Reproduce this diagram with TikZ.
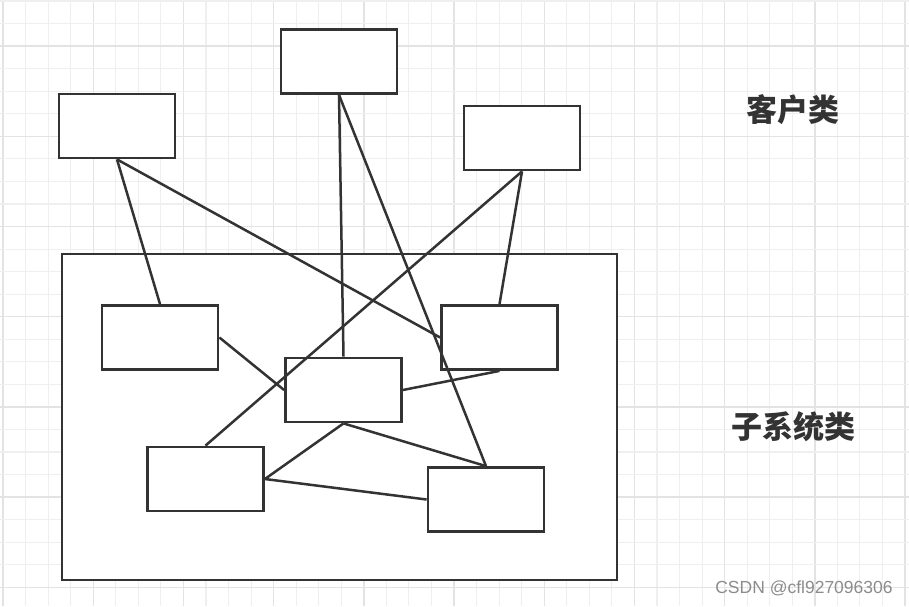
\documentclass[tikz,border=0pt]{standalone}
\usepackage{fontspec}
\newfontfamily\cjk{Noto Sans CJK SC}
\newfontfamily\wmfont{Liberation Sans}
\definecolor{gridminor}{HTML}{EFEFEF}
\definecolor{gridmajor}{HTML}{E3E3E3}
\definecolor{ink}{HTML}{333333}
\definecolor{wmgray}{HTML}{8C8C8C}
\tikzset{
  cls/.style={draw=ink, line width=2.8pt, fill=white, minimum width=116pt, minimum height=64pt, inner sep=0pt},
  frame/.style={draw=ink, line width=2.8pt, fill=white, minimum width=555pt, minimum height=326pt, inner sep=0pt},
  link/.style={draw=ink, line width=2.5pt},
  lbl/.style={font=\cjk\bfseries\fontsize{31}{31}\selectfont, text=ink, inner sep=0pt, anchor=base},
  wmark/.style={font=\wmfont\fontsize{17.5}{17.5}\selectfont, text=wmgray, inner sep=0pt, anchor=base}
}
\begin{document}
\begin{tikzpicture}[x=1pt,y=-1pt]
\useasboundingbox (0,0) rectangle (909,606);
\fill[white] (0,0) rectangle (909,606);
% grid
\foreach \k in {0,...,40} {
  \pgfmathsetmacro{\xx}{3+22.55*\k}
  \pgfmathtruncatemacro{\m}{mod(\k,4)}
  \ifnum\m=0
    \draw[gridmajor, line width=1.4pt] (\xx,0) -- (\xx,606);
  \else
    \draw[gridminor, line width=1.1pt] (\xx,0) -- (\xx,606);
  \fi
}
\foreach \k in {0,...,26} {
  \pgfmathsetmacro{\yy}{1+22.55*\k}
  \pgfmathtruncatemacro{\m}{mod(\k,4)}
  \ifnum\m=2
    \draw[gridmajor, line width=1.4pt] (0,\yy) -- (909,\yy);
  \else
    \draw[gridminor, line width=1.1pt] (0,\yy) -- (909,\yy);
  \fi
}
% container
\node[frame] (sub) at (339.5,417) {};
% client classes
\node[cls] (tc) at (339,61.5) {};
\node[cls] (tl) at (117,126) {};
\node[cls] (tr) at (522,138) {};
% subsystem classes
\node[cls] (a) at (160,337.5) {};
\node[cls] (b) at (343.5,390) {};
\node[cls] (c) at (499.5,337.5) {};
\node[cls] (d) at (205.5,479) {};
\node[cls] (e) at (486,499.5) {};
% connectors
\draw[link] (tl.south) -- (a.north);
\draw[link] (tl.south) -- (c.west);
\draw[link] (tc.south) -- (b.north);
\draw[link] (tc.south) -- (e.north);
\draw[link] (tr.south) -- (c.north);
\draw[link] (tr.south) -- (d.north);
\draw[link] (a.east) -- (b.west);
\draw[link] (b.east) -- (c.south);
\draw[link] (b.south) -- (d.east);
\draw[link] (b.south) -- (e.north);
\draw[link] (d.east) -- (e.west);
% labels
\node[lbl] (lc) at (793,121) {客户类};
\node[lbl] (ls) at (793,438) {子系统类};
\node[wmark] (wmk) at (804,593) {CSDN @cfl927096306};
\end{tikzpicture}
\end{document}
